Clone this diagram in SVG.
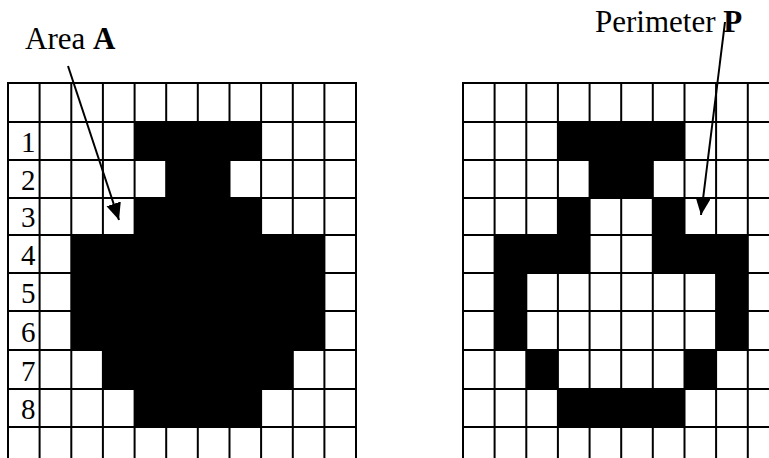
<svg xmlns="http://www.w3.org/2000/svg" width="769" height="458" viewBox="0 0 769 458">
<defs>
<style>
.lbl{font-family:"Liberation Serif","Times New Roman",serif;fill:#000}
.cell{fill:#000}
.grid line{stroke:#000;stroke-width:2}
.arrow{stroke:#000;stroke-width:2;fill:none}
</style>
<marker id="ah" markerUnits="userSpaceOnUse" markerWidth="18" markerHeight="16" refX="17" refY="7.5" orient="auto">
<path d="M0,0 L17,7.5 L0,15 z" fill="#000"/>
</marker>
</defs>
<rect width="769" height="458" fill="#fff"/>

<g id="area-grid">
<g id="area-cells" class="cell">
<rect x="134.6" y="122" width="126.5" height="38"/>
<rect x="166.2" y="160" width="63.3" height="38"/>
<rect x="134.6" y="198" width="126.5" height="37"/>
<rect x="71.3" y="235" width="253.1" height="115"/>
<rect x="102.9" y="350" width="189.9" height="39"/>
<rect x="134.6" y="389" width="126.5" height="38"/>
</g>
<g class="grid">
<line x1="8" y1="83" x2="356" y2="83"/>
<line x1="8" y1="122" x2="356" y2="122"/>
<line x1="8" y1="160" x2="356" y2="160"/>
<line x1="8" y1="198" x2="356" y2="198"/>
<line x1="8" y1="235" x2="356" y2="235"/>
<line x1="8" y1="273" x2="356" y2="273"/>
<line x1="8" y1="311" x2="356" y2="311"/>
<line x1="8" y1="350" x2="356" y2="350"/>
<line x1="8" y1="389" x2="356" y2="389"/>
<line x1="8" y1="427" x2="356" y2="427"/>
<line x1="8" y1="82" x2="8" y2="458"/>
<line x1="39.6" y1="82" x2="39.6" y2="458"/>
<line x1="71.3" y1="82" x2="71.3" y2="458"/>
<line x1="102.9" y1="82" x2="102.9" y2="458"/>
<line x1="134.6" y1="82" x2="134.6" y2="458"/>
<line x1="166.2" y1="82" x2="166.2" y2="458"/>
<line x1="197.8" y1="82" x2="197.8" y2="458"/>
<line x1="229.5" y1="82" x2="229.5" y2="458"/>
<line x1="261.1" y1="82" x2="261.1" y2="458"/>
<line x1="292.8" y1="82" x2="292.8" y2="458"/>
<line x1="324.4" y1="82" x2="324.4" y2="458"/>
<line x1="356" y1="82" x2="356" y2="458"/>
</g>
<g id="row-labels" class="lbl" font-size="29">
<text x="21" y="152">1</text>
<text x="21" y="190">2</text>
<text x="21" y="227">3</text>
<text x="21" y="265">4</text>
<text x="21" y="303">5</text>
<text x="21" y="342">6</text>
<text x="21" y="381">7</text>
<text x="21" y="419">8</text>
</g>
</g>

<g id="perimeter-grid">
<g id="perimeter-cells" class="cell">
<rect x="557.9" y="122" width="126.6" height="38"/>
<rect x="589.6" y="160" width="63.2" height="38"/>
<rect x="557.9" y="198" width="31.7" height="37"/>
<rect x="652.8" y="198" width="31.7" height="37"/>
<rect x="494.6" y="235" width="95" height="38"/>
<rect x="652.8" y="235" width="95" height="38"/>
<rect x="494.6" y="273" width="31.7" height="77"/>
<rect x="716.1" y="273" width="31.7" height="77"/>
<rect x="526.3" y="350" width="31.6" height="39"/>
<rect x="684.5" y="350" width="31.6" height="39"/>
<rect x="557.9" y="389" width="126.6" height="38"/>
</g>
<g class="grid">
<line x1="463" y1="83" x2="769" y2="83"/>
<line x1="463" y1="122" x2="769" y2="122"/>
<line x1="463" y1="160" x2="769" y2="160"/>
<line x1="463" y1="198" x2="769" y2="198"/>
<line x1="463" y1="235" x2="769" y2="235"/>
<line x1="463" y1="273" x2="769" y2="273"/>
<line x1="463" y1="311" x2="769" y2="311"/>
<line x1="463" y1="350" x2="769" y2="350"/>
<line x1="463" y1="389" x2="769" y2="389"/>
<line x1="463" y1="427" x2="769" y2="427"/>
<line x1="463" y1="82" x2="463" y2="458"/>
<line x1="494.6" y1="82" x2="494.6" y2="458"/>
<line x1="526.3" y1="82" x2="526.3" y2="458"/>
<line x1="557.9" y1="82" x2="557.9" y2="458"/>
<line x1="589.6" y1="82" x2="589.6" y2="458"/>
<line x1="621.2" y1="82" x2="621.2" y2="458"/>
<line x1="652.8" y1="82" x2="652.8" y2="458"/>
<line x1="684.5" y1="82" x2="684.5" y2="458"/>
<line x1="716.1" y1="82" x2="716.1" y2="458"/>
<line x1="747.8" y1="82" x2="747.8" y2="458"/>
</g>
</g>

<g id="label-area" class="lbl" font-size="31">
<text x="25" y="49">Area <tspan font-weight="bold">A</tspan></text>
</g>
<g id="label-perimeter" class="lbl" font-size="31">
<text x="595" y="32">Perimeter <tspan font-weight="bold">P</tspan></text>
</g>

<g id="connectors">
<line class="arrow" x1="68" y1="66" x2="119" y2="220" marker-end="url(#ah)"/>
<line class="arrow" x1="725" y1="22" x2="701" y2="215" marker-end="url(#ah)"/>
</g>
</svg>
